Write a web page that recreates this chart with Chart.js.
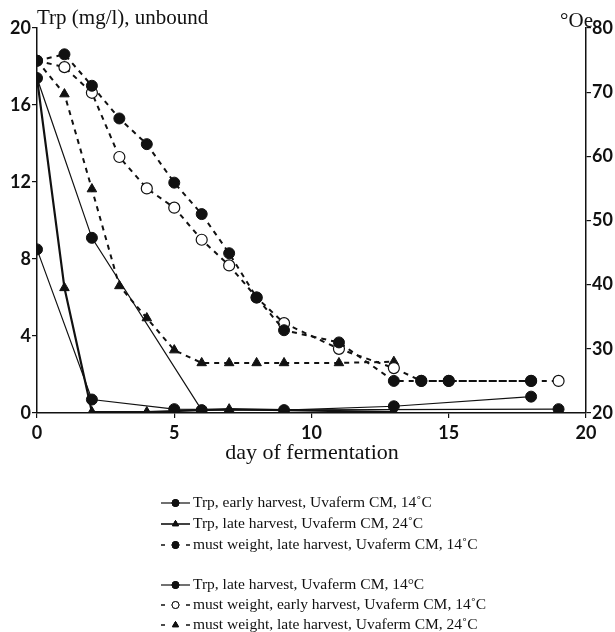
<!DOCTYPE html>
<html>
<head>
<meta charset="utf-8">
<script src="https://cdn.jsdelivr.net/npm/chart.js@4.4.1/dist/chart.umd.min.js"></script>
<style>
  html, body { margin: 0; padding: 0; background: #fff; }
  #wrap { position: relative; width: 615px; height: 632px; }
</style>
</head>
<body>
<div id="wrap"><canvas id="fermChart" width="615" height="632"></canvas></div>
<script>
// ---- data ----
const xTicks = [0, 5, 10, 15, 20];
const trpTicks = [0, 4, 8, 12, 16, 20];
const oeTicks = [20, 30, 40, 50, 60, 70, 80];

// Trp (mg/l), left axis
const daysTrpEarly14 = [0, 2, 5, 9, 13, 18];
const trpEarly14 = [8.5, 0.7, 0.2, 0.15, 0.35, 0.85];

const daysTrpLate24 = [0, 1, 2, 4, 7, 13];
const trpLate24 = [17.4, 6.5, 0.05, 0.05, 0.2, 0.05];

const daysTrpLate14 = [0, 2, 6, 19];
const trpLate14 = [17.4, 9.1, 0.15, 0.2];

// must weight (°Oe), right axis
const daysMwLate14 = [0, 1, 2, 3, 4, 5, 6, 7, 8, 9, 11, 13, 14, 15, 18];
const mwLate14 = [74.9, 75.9, 71, 65.9, 61.9, 55.9, 51, 44.9, 38, 32.9, 31, 25, 25, 25, 25];

const daysMwEarly14 = [0, 1, 2, 3, 4, 5, 6, 7, 8, 9, 11, 13, 14, 15, 18, 19];
const mwEarly14 = [74.9, 73.9, 69.9, 59.9, 55, 52, 47, 43, 38, 34, 30, 27, 25, 25, 25, 25];

const daysMwLate24 = [0, 1, 2, 3, 4, 5, 6, 7, 8, 9, 11, 13];
const mwLate24 = [74.9, 69.7, 54.9, 39.8, 34.8, 29.8, 27.8, 27.8, 27.8, 27.8, 27.8, 28];

const seriesLabels = [
    'Trp, early harvest, Uvaferm CM, 14\u02DAC',
    'Trp, late harvest, Uvaferm CM, 24\u02DAC',
    'must weight, late harvest, Uvaferm CM, 14\u02DAC',
    'Trp, late harvest, Uvaferm CM, 14\u00B0C',
    'must weight, early harvest, Uvaferm CM, 14\u02DAC',
    'must weight, late harvest, Uvaferm CM, 24\u02DAC'
];

function pts(days, vals) {
    return days.map(function (d, i) { return { x: d, y: vals[i] }; });
}

const INK = '#111';
const serif = '"Liberation Serif", "DejaVu Serif", serif';
const sans = 'Lato, "DejaVu Sans", sans-serif';

function solid(label, data, style, width) {
    return {
        label: label, data: data, yAxisID: 'yTrp',
        showLine: true, borderColor: INK, borderWidth: width,
        pointStyle: style, pointRadius: 5.5, pointBackgroundColor: INK,
        pointBorderColor: INK, pointBorderWidth: 1
    };
}
function dashed(label, data, style, open) {
    return {
        label: label, data: data, yAxisID: 'yOe',
        showLine: true, borderColor: INK, borderWidth: 2, borderDash: [5, 5],
        pointStyle: style, pointRadius: 5.5,
        pointBackgroundColor: open ? '#fff' : INK,
        pointBorderColor: INK, pointBorderWidth: open ? 1.2 : 1
    };
}

const datasets = [
    solid(seriesLabels[0], pts(daysTrpEarly14, trpEarly14), 'circle', 1.2),
    solid(seriesLabels[1], pts(daysTrpLate24, trpLate24), 'triangle', 2.2),
    dashed(seriesLabels[2], pts(daysMwLate14, mwLate14), 'circle', false),
    solid(seriesLabels[3], pts(daysTrpLate14, trpLate14), 'circle', 1.2),
    dashed(seriesLabels[4], pts(daysMwEarly14, mwEarly14), 'circle', true),
    dashed(seriesLabels[5], pts(daysMwLate24, mwLate24), 'triangle', false)
];

// legend drawn below the axes, with a gap between the two groups of three
const legendRows = [503, 524, 545, 585, 605, 625];

const customText = {
    id: 'customText',
    afterDraw: function (chart) {
        const ctx = chart.ctx;
        ctx.save();
        ctx.fillStyle = INK;
        ctx.textBaseline = 'alphabetic';
        ctx.font = '21px ' + serif;
        ctx.textAlign = 'left';
        ctx.fillText('Trp (mg/l), unbound', 37, 24);
        ctx.textAlign = 'right';
        ctx.fillText('\u00B0Oe', 593, 27);
        ctx.font = '22px ' + serif;
        ctx.textAlign = 'center';
        ctx.fillText('day of fermentation', 312, 459);

        // legend
        ctx.textAlign = 'left';
        ctx.textBaseline = 'middle';
        ctx.font = '15.5px ' + serif;
        chart.data.datasets.forEach(function (ds, i) {
            const y = legendRows[i];
            const x0 = 161, x1 = 190, xm = (x0 + x1) / 2;
            ctx.strokeStyle = INK;
            if (ds.borderDash) {
                ctx.lineWidth = 1.5;
                ctx.beginPath();
                ctx.moveTo(x0, y); ctx.lineTo(x0 + 4, y);
                ctx.moveTo(x1 - 4, y); ctx.lineTo(x1, y);
                ctx.stroke();
            } else {
                ctx.lineWidth = ds.borderWidth > 2 ? 1.6 : 1.2;
                ctx.beginPath();
                ctx.moveTo(x0, y); ctx.lineTo(x1, y);
                ctx.stroke();
            }
            ctx.fillStyle = ds.pointBackgroundColor;
            ctx.lineWidth = 1;
            Chart.helpers.drawPoint(ctx, { pointStyle: ds.pointStyle, radius: 3.5, rotation: 0, borderWidth: 1 }, xm, y);
            ctx.fill();
            ctx.stroke();
            ctx.fillStyle = INK;
            ctx.fillText(ds.label, 193, y);
        });
        ctx.restore();
    }
};

const tickFont = { family: sans, size: 18, weight: 'bold' };

new Chart(document.getElementById('fermChart').getContext('2d'), {
    type: 'scatter',
    data: { datasets: datasets },
    options: {
        responsive: false,
        animation: false,
        layout: { padding: { top: 28, left: 0, right: 0, bottom: 0 } },
        plugins: { legend: { display: false }, tooltip: { enabled: false } },
        scales: {
            x: {
                type: 'linear', min: 0, max: 20,
                afterBuildTicks: function (s) { s.ticks = xTicks.map(function (v) { return { value: v }; }); },
                afterFit: function (s) { s.height = 219; },
                ticks: { color: INK, font: tickFont, padding: 4 },
                grid: { drawOnChartArea: false, drawTicks: true, tickLength: 5, color: INK, lineWidth: 1.2 },
                border: { color: INK, width: 1.5 }
            },
            yTrp: {
                type: 'linear', position: 'left', min: 0, max: 20,
                afterBuildTicks: function (s) { s.ticks = trpTicks.map(function (v) { return { value: v }; }); },
                afterFit: function (s) { s.width = 37; },
                ticks: { color: INK, font: tickFont, padding: 1 },
                grid: { drawOnChartArea: false, drawTicks: true, tickLength: 5, color: INK, lineWidth: 1.2 },
                border: { color: INK, width: 1.5 }
            },
            yOe: {
                type: 'linear', position: 'right', min: 20, max: 80,
                afterBuildTicks: function (s) { s.ticks = oeTicks.map(function (v) { return { value: v }; }); },
                afterFit: function (s) { s.width = 29; },
                ticks: { color: INK, font: tickFont, padding: 1 },
                grid: { drawOnChartArea: false, drawTicks: true, tickLength: 5, color: INK, lineWidth: 1.2 },
                border: { color: INK, width: 1.5 }
            }
        }
    },
    plugins: [customText]
});
</script>
</body>
</html>
